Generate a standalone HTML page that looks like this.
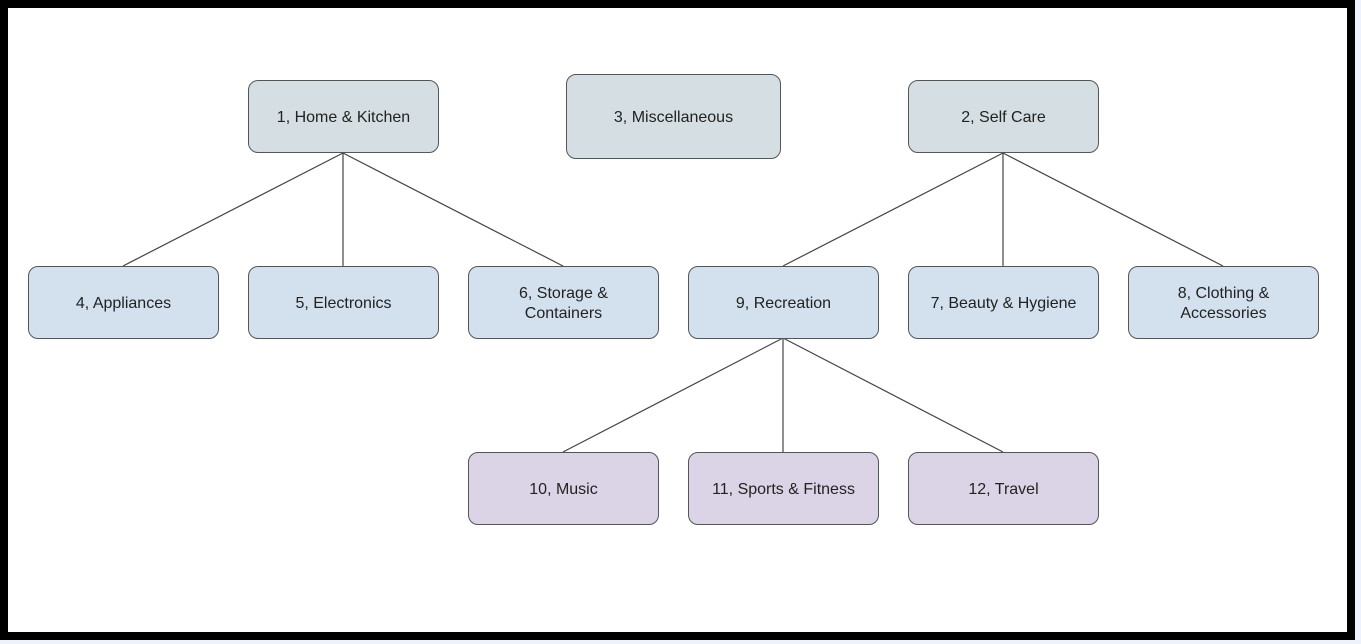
<!DOCTYPE html>
<html><head><style>
html,body{margin:0;padding:0;}
body{width:1361px;height:644px;background:#eef2fa;position:relative;overflow:hidden;font-family:"Liberation Sans",sans-serif;}
.frame{position:absolute;left:0;top:0;width:1339px;height:624px;border:8px solid #000;background:#fff;}
.n{position:absolute;box-sizing:border-box;border:1.3px solid #555;border-radius:10px;display:flex;align-items:center;justify-content:center;text-align:center;font-size:16px;color:#222;line-height:20px;padding-top:3px;}
.a{background:#d5dfe3;}
.b{background:#d3e1ef;}
.c{background:#dbd4e7;}
svg{position:absolute;left:0;top:0;}
</style></head><body>
<div class="frame"></div>
<svg width="1361" height="644"><g stroke="#444" stroke-width="1.2" fill="none">
<line x1="343" y1="153" x2="123" y2="266"/><line x1="343" y1="153" x2="343" y2="266"/><line x1="343" y1="153" x2="563" y2="266"/>
<line x1="1003" y1="153" x2="783" y2="266"/><line x1="1003" y1="153" x2="1003" y2="266"/><line x1="1003" y1="153" x2="1223" y2="266"/>
<line x1="783" y1="338" x2="563" y2="452"/><line x1="783" y1="338" x2="783" y2="452"/><line x1="783" y1="338" x2="1003" y2="452"/>
</g></svg>
<div class="n a" style="left:248px;top:80px;width:191px;height:73px">1, Home &amp; Kitchen</div>
<div class="n a" style="left:566px;top:74px;width:215px;height:85px">3, Miscellaneous</div>
<div class="n a" style="left:908px;top:80px;width:191px;height:73px">2, Self Care</div>
<div class="n b" style="left:28px;top:266px;width:191px;height:73px">4, Appliances</div>
<div class="n b" style="left:248px;top:266px;width:191px;height:73px">5, Electronics</div>
<div class="n b" style="left:468px;top:266px;width:191px;height:73px">6, Storage &amp;<br>Containers</div>
<div class="n b" style="left:688px;top:266px;width:191px;height:73px">9, Recreation</div>
<div class="n b" style="left:908px;top:266px;width:191px;height:73px">7, Beauty &amp; Hygiene</div>
<div class="n b" style="left:1128px;top:266px;width:191px;height:73px">8, Clothing &amp;<br>Accessories</div>
<div class="n c" style="left:468px;top:452px;width:191px;height:73px">10, Music</div>
<div class="n c" style="left:688px;top:452px;width:191px;height:73px">11, Sports &amp; Fitness</div>
<div class="n c" style="left:908px;top:452px;width:191px;height:73px">12, Travel</div>
</body></html>
